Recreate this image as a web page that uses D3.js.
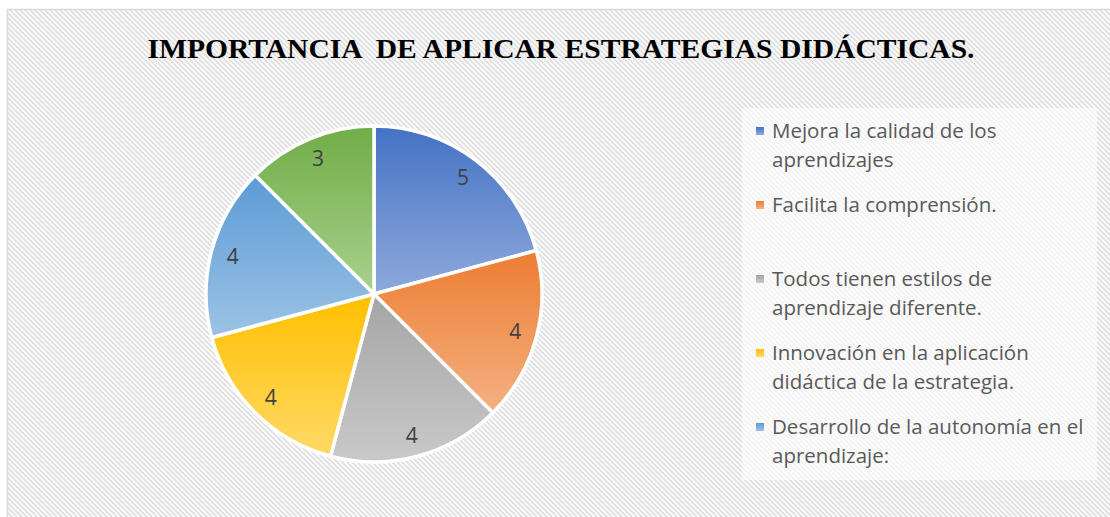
<!DOCTYPE html>
<html>
<head>
<meta charset="utf-8">
<script src="https://cdn.jsdelivr.net/npm/d3@7"></script>
<style>
  body { margin: 0; background: #fff; }
  svg { display: block; }
</style>
</head>
<body>
<svg></svg>
<script>
// chart data
var title = 'IMPORTANCIA  DE APLICAR ESTRATEGIAS DIDÁCTICAS.';
var categories = [
  'Mejora la calidad de los aprendizajes',
  'Facilita la comprensión.',
  'Todos tienen estilos de aprendizaje diferente.',
  'Innovación en la aplicación didáctica de la estrategia.',
  'Desarrollo de la autonomía en el aprendizaje:',
  'Otros'
];
// legend text as it wraps in the picture
var legendLines = [
  ['Mejora la calidad de los', 'aprendizajes'],
  ['Facilita la comprensión.'],
  ['Todos tienen estilos de', 'aprendizaje diferente.'],
  ['Innovación en la aplicación', 'didáctica de la estrategia.'],
  ['Desarrollo de la autonomía en el', 'aprendizaje:']
];
var values = [5, 4, 4, 4, 4, 3];
var topColors = ['#4472C4', '#ED7D31', '#A5A5A5', '#FFC000', '#5B9BD5', '#70AD47'];
var bottomColors = ['#8FAADC', '#F4B183', '#C9C9C9', '#FFD966', '#9DC3E6', '#A9D18E'];

/*********layout************/
var width = 1110, height = 517;
var cx = 374, cy = 294, radius = 168;
var svg = d3.select('svg').attr('width', width).attr('height', height);
var defs = svg.append('defs');

// diagonal hatch background
var hatch = defs.append('pattern')
  .attr('id', 'hatch')
  .attr('patternUnits', 'userSpaceOnUse')
  .attr('width', 5).attr('height', 5);
hatch.append('rect').attr('width', 5).attr('height', 5).attr('fill', '#fff');
hatch.append('path')
  .attr('d', 'M-1,4 l2,2 M0,0 l5,5 M4,-1 l2,2')
  .attr('stroke', '#e2e2e2').attr('stroke-width', 2);

svg.append('rect')
  .attr('x', 7.5).attr('y', 9.5)
  .attr('width', width).attr('height', height)
  .attr('fill', 'url(#hatch)')
  .attr('stroke', '#d9d9d9').attr('stroke-width', 1.5);

// slice gradients
categories.forEach(function(c, i) {
  var g = defs.append('linearGradient')
    .attr('id', 'grad' + i)
    .attr('x1', 0).attr('y1', 0).attr('x2', 0).attr('y2', 1);
  g.append('stop').attr('offset', '0%').attr('stop-color', topColors[i]);
  g.append('stop').attr('offset', '100%').attr('stop-color', bottomColors[i]);
});

// title
svg.append('text')
  .attr('x', 561).attr('y', 58)
  .attr('text-anchor', 'middle')
  .attr('font-family', '"Liberation Serif", "Times New Roman", serif')
  .attr('font-weight', 'bold')
  .attr('font-size', 28)
  .attr('textLength', 827)
  .attr('lengthAdjust', 'spacingAndGlyphs')
  .attr('fill', '#000')
  .style('white-space', 'pre')
  .text(title);

/*********pie************/
var pie = d3.pie().sort(null).value(function(d) { return d; });
var arcs = pie(values);
var arc = d3.arc().innerRadius(0).outerRadius(radius);
var labelArc = d3.arc().innerRadius(radius * 0.87).outerRadius(radius * 0.87);

var pieG = svg.append('g').attr('transform', 'translate(' + cx + ',' + cy + ')');
pieG.selectAll('path.slice')
  .data(arcs)
  .enter().append('path')
  .attr('class', 'slice')
  .attr('d', arc)
  .attr('fill', function(d, i) { return 'url(#grad' + i + ')'; })
  .attr('stroke', '#fff')
  .attr('stroke-width', 3.5)
  .attr('stroke-linejoin', 'round');

pieG.selectAll('text.lbl')
  .data(arcs)
  .enter().append('text')
  .attr('class', 'lbl')
  .attr('transform', function(d) { return 'translate(' + labelArc.centroid(d) + ')'; })
  .attr('text-anchor', 'middle')
  .attr('dy', '0.35em')
  .attr('font-family', '"Open Sans", "Noto Sans", sans-serif')
  .attr('font-size', 21)
  .attr('fill', '#404040')
  .text(function(d) { return d.data; });

/*********legend************/
svg.append('rect')
  .attr('x', 742).attr('y', 108)
  .attr('width', 355).attr('height', 372)
  .attr('fill', '#fff').attr('opacity', 0.6);

var legendG = svg.append('g');
var slot = 74, lineH = 29;
var item = legendG.selectAll('g.item')
  .data(legendLines)
  .enter().append('g')
  .attr('class', 'item')
  .attr('transform', function(d, i) { return 'translate(756,' + (131 + i * slot) + ')'; });
item.append('rect')
  .attr('x', 0).attr('y', -4)
  .attr('width', 8).attr('height', 8)
  .attr('fill', function(d, i) { return 'url(#grad' + i + ')'; });
item.selectAll('text')
  .data(function(d) { return d; })
  .enter().append('text')
  .attr('x', 16)
  .attr('y', function(d, j) { return j * lineH; })
  .attr('dy', '0.35em')
  .attr('font-family', '"Open Sans", "Noto Sans", sans-serif')
  .attr('font-size', 20.5)
  .attr('fill', '#595959')
  .text(function(d) { return d; });
</script>
</body>
</html>
